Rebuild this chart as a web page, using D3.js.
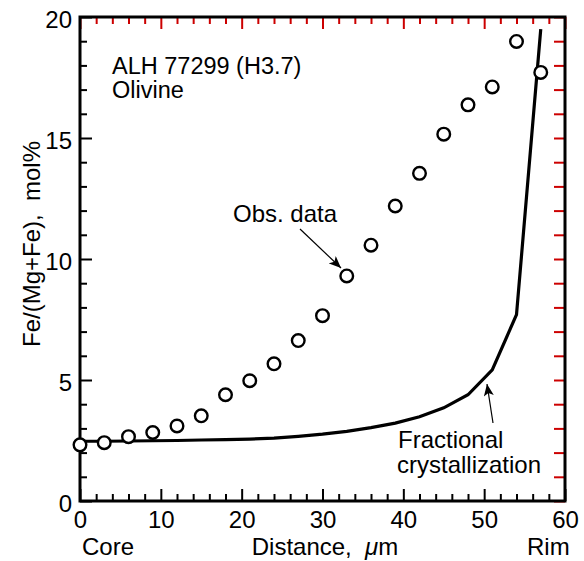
<!DOCTYPE html>
<html>
<head>
<meta charset="utf-8">
<script src="https://cdn.jsdelivr.net/npm/d3@7"></script>
<style>
  body { margin: 0; background: #fff; overflow: hidden; }
  svg { display: block; }
  text { font-family: "Liberation Sans", Arial, Helvetica, sans-serif; fill: #000; }
</style>
</head>
<body>
<div id="chart"></div>
<script>
// observed olivine Fe/(Mg+Fe) profile
var obsDistance = [0, 3, 6, 9, 12, 15, 18, 21, 24, 27, 30, 33, 36, 39, 42, 45, 48, 51, 54, 57];
var obsFe = [2.32, 2.41, 2.66, 2.83, 3.1, 3.52, 4.39, 4.97, 5.67, 6.63, 7.66, 9.3, 10.57, 12.19, 13.54, 15.16, 16.37, 17.11, 18.99, 17.71];

// fractional crystallization model
var modelDistance = [0, 3, 6, 9, 12, 15, 18, 21, 24, 27, 30, 33, 36, 39, 42, 45, 48, 51, 54, 57];
var modelFe = [2.47, 2.47, 2.48, 2.49, 2.5, 2.52, 2.54, 2.56, 2.6, 2.67, 2.76, 2.88, 3.03, 3.22, 3.48, 3.85, 4.39, 5.42, 7.7, 19.5];

var xTicks = [0, 10, 20, 30, 40, 50, 60];
var yTicks = [0, 5, 10, 15, 20];
var xMinorTicks = [2, 4, 6, 8, 12, 14, 16, 18, 22, 24, 26, 28, 32, 34, 36, 38, 42, 44, 46, 48, 52, 54, 56, 58];
var yMinorTicks = [1, 2, 3, 4, 6, 7, 8, 9, 11, 12, 13, 14, 16, 17, 18, 19];
var yAllTicks = [0, 1, 2, 3, 4, 5, 6, 7, 8, 9, 10, 11, 12, 13, 14, 15, 16, 17, 18, 19, 20];

var svgWidth = 584;
var svgHeight = 561;
var margin = { top: 17, right: 19, bottom: 60, left: 80 };
var width = svgWidth - margin.left - margin.right;
var height = svgHeight - margin.top - margin.bottom;
var fontSize = "24px";

var svg = d3.select("#chart")
  .append("svg")
  .attr("width", svgWidth)
  .attr("height", svgHeight);

var chartGroup = svg.append("g")
  .attr("transform", `translate(${margin.left}, ${margin.top})`);

var xScale = d3.scaleLinear().domain([0, 60]).range([0, width]);
var yScale = d3.scaleLinear().domain([0, 20]).range([height, 0]);

// inward tick marks, drawn with d3 axes (negative size points inside)
function tickAxis(axis, transform, colour) {
  var g = chartGroup.append("g")
    .attr("transform", transform)
    .call(axis.tickFormat(""));
  g.select(".domain").remove();
  g.selectAll(".tick line").attr("stroke", colour).attr("stroke-width", 2);
  return g;
}

tickAxis(d3.axisBottom(xScale).tickValues(xTicks).tickSize(-12), `translate(0, ${height})`, "#000");
tickAxis(d3.axisBottom(xScale).tickValues(xMinorTicks).tickSize(-7), `translate(0, ${height})`, "#000");
tickAxis(d3.axisTop(xScale).tickValues(xTicks).tickSize(-12), "translate(0, 0)", "#c00");
tickAxis(d3.axisTop(xScale).tickValues(xMinorTicks).tickSize(-7), "translate(0, 0)", "#c00");
tickAxis(d3.axisLeft(yScale).tickValues(yTicks).tickSize(-12), "translate(0, 0)", "#000");
tickAxis(d3.axisLeft(yScale).tickValues(yMinorTicks).tickSize(-7), "translate(0, 0)", "#000");
tickAxis(d3.axisRight(yScale).tickValues(yAllTicks).tickSize(-11), `translate(${width}, 0)`, "#c00");

// frame
chartGroup.append("rect")
  .attr("width", width).attr("height", height)
  .attr("fill", "none").attr("stroke", "#000").attr("stroke-width", 3);

// tick labels
var bottomAxis = d3.axisBottom(xScale).tickValues(xTicks).tickSize(0).tickPadding(10);
var leftAxis = d3.axisLeft(yScale).tickValues(yTicks).tickSize(0).tickPadding(8);

var xAxis = chartGroup.append("g")
  .attr("transform", `translate(0, ${height})`)
  .call(bottomAxis);
var yAxis = chartGroup.append("g").call(leftAxis);

[xAxis, yAxis].forEach(function(ax) {
  ax.select(".domain").remove();
  ax.selectAll("text")
    .attr("font-size", fontSize)
    .attr("font-family", "'Liberation Sans', Arial, sans-serif")
    .attr("fill", "#000");
});
yAxis.selectAll("text").attr("dy", "0.42em");

// model line
var modelLine = d3.line()
  .x((d, i) => xScale(modelDistance[i]))
  .y(d => yScale(d));

chartGroup.append("path")
  .datum(modelFe)
  .attr("d", modelLine)
  .attr("fill", "none")
  .attr("stroke", "#000")
  .attr("stroke-width", 3.2)
  .attr("stroke-linejoin", "miter");

// observed points
chartGroup.selectAll(".obs")
  .data(obsFe)
  .enter()
  .append("circle")
  .attr("class", "obs")
  .attr("cx", (d, i) => xScale(obsDistance[i]))
  .attr("cy", d => yScale(d))
  .attr("r", 6.3)
  .attr("fill", "#fff")
  .attr("stroke", "#000")
  .attr("stroke-width", 2.4);

// arrowhead
svg.append("defs").append("marker")
  .attr("id", "arrow")
  .attr("viewBox", "0 0 12 10")
  .attr("refX", 12).attr("refY", 5)
  .attr("markerWidth", 12).attr("markerHeight", 10)
  .attr("markerUnits", "userSpaceOnUse")
  .attr("orient", "auto")
  .append("path")
  .attr("d", "M0,0 L12,5 L0,10 L3,5 Z")
  .attr("fill", "#000");

// annotations
svg.append("text").attr("x", 112).attr("y", 74).attr("font-size", "23.5px").text("ALH 77299 (H3.7)");
svg.append("text").attr("x", 112).attr("y", 98).attr("font-size", "23.5px").text("Olivine");

svg.append("text").attr("x", 233).attr("y", 222).attr("font-size", fontSize).text("Obs. data");
svg.append("line")
  .attr("x1", 300).attr("y1", 229).attr("x2", 341).attr("y2", 268)
  .attr("stroke", "#000").attr("stroke-width", 1.2)
  .attr("marker-end", "url(#arrow)");

svg.append("text").attr("x", 398).attr("y", 448).attr("font-size", fontSize).text("Fractional");
svg.append("text").attr("x", 397).attr("y", 473).attr("font-size", fontSize).text("crystallization");
svg.append("line")
  .attr("x1", 493).attr("y1", 423).attr("x2", 487).attr("y2", 384)
  .attr("stroke", "#000").attr("stroke-width", 1.2)
  .attr("marker-end", "url(#arrow)");

// axis titles
svg.append("text")
  .attr("transform", "translate(40, 244) rotate(-90)")
  .attr("text-anchor", "middle")
  .attr("font-size", fontSize)
  .attr("xml:space", "preserve")
  .text("Fe/(Mg+Fe),  mol%");

var xTitle = svg.append("text")
  .attr("x", 325).attr("y", 555)
  .attr("text-anchor", "middle")
  .attr("font-size", fontSize)
  .attr("xml:space", "preserve");
xTitle.append("tspan").text("Distance,  ");
xTitle.append("tspan").attr("font-style", "italic").text("\u03bc");
xTitle.append("tspan").text("m");

svg.append("text").attr("x", 82).attr("y", 555).attr("font-size", fontSize).text("Core");
svg.append("text").attr("x", 527).attr("y", 555).attr("font-size", fontSize).text("Rim");
</script>
</body>
</html>
